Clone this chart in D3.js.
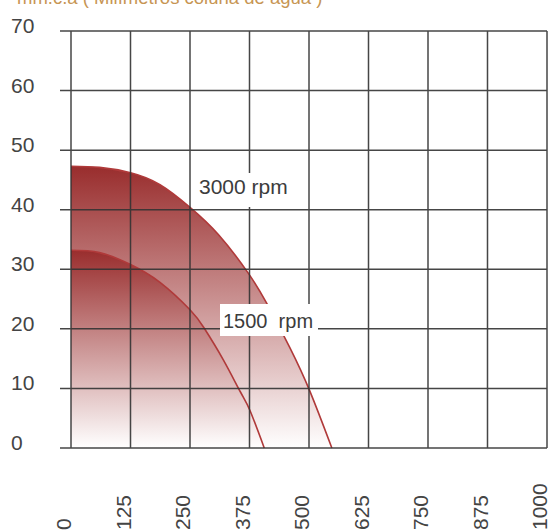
<!DOCTYPE html>
<html>
<head>
<meta charset="utf-8">
<script src="https://cdn.jsdelivr.net/npm/d3@7"></script>
<style>
  html, body { margin: 0; padding: 0; background: #fff; }
  svg { display: block; }
  text { font-family: "Liberation Sans", Arial, sans-serif; }
</style>
</head>
<body>
<svg id="chart" width="549" height="532"></svg>
<script>
// ---- data ----
const title = "mm.c.a ( Milímetros coluna de água )";
const yTicks = [0, 10, 20, 30, 40, 50, 60, 70];
const xTicks = [0, 125, 250, 375, 500, 625, 750, 875, 1000];
const flow3000 = [0, 60, 125, 187, 250, 310, 372, 411, 460, 502, 548];
const head3000 = [47.3, 47.1, 46.2, 44.2, 40.4, 35.8, 29.4, 24.3, 16.8, 9.5, 0];
const flow1500 = [0, 60, 125, 187, 250, 280, 320, 356, 376, 406];
const head1500 = [33.2, 32.8, 30.8, 27.8, 23.2, 20.1, 14.8, 9.4, 6.3, 0];
const seriesNames = ["3000 rpm", "1500\u00a0 rpm"];

const svg = d3.select("#chart");
const x = d3.scaleLinear().domain([0, 1000]).range([71, 547]);
const y = d3.scaleLinear().domain([0, 70]).range([448, 31]);

const series = [
  { name: seriesNames[0], pts: flow3000.map((f, i) => [f, head3000[i]]) },
  { name: seriesNames[1], pts: flow1500.map((f, i) => [f, head1500[i]]) }
];

const defs = svg.append("defs");
series.forEach((s, i) => {
  const top = d3.max(s.pts, d => d[1]);
  const g = defs.append("linearGradient")
    .attr("id", "grad" + i)
    .attr("gradientUnits", "userSpaceOnUse")
    .attr("x1", 0).attr("x2", 0)
    .attr("y1", y(top)).attr("y2", y(0));
  g.append("stop").attr("offset", 0).attr("stop-color", "#992d2d");
  g.append("stop").attr("offset", 1).attr("stop-color", "#ffffff");
});

// title (cut at top, as in the reference)
svg.append("text")
  .attr("x", 17).attr("y", 4)
  .attr("font-size", 18.5)
  .attr("fill", "#c79553")
  .text(title);

const curve = d3.curveNatural;
const area = d3.area()
  .x(d => x(d[0])).y0(y(0)).y1(d => y(d[1]))
  .curve(curve);
const line = d3.line()
  .x(d => x(d[0])).y(d => y(d[1]))
  .curve(curve);

series.forEach((s, i) => {
  svg.append("path").attr("d", area(s.pts)).attr("fill", `url(#grad${i})`);
  svg.append("path").attr("d", line(s.pts))
    .attr("fill", "none").attr("stroke", "#b03a3a").attr("stroke-width", 1.6);
});

// grid
const grid = svg.append("g").attr("stroke", "#333").attr("stroke-width", 1.5).attr("opacity", 0.9);
grid.selectAll("line.h").data(yTicks).join("line")
  .attr("x1", 60).attr("x2", x(1000))
  .attr("y1", d => y(d)).attr("y2", d => y(d));
grid.selectAll("line.v").data(xTicks).join("line")
  .attr("y1", y(70)).attr("y2", y(0))
  .attr("x1", d => x(d)).attr("x2", d => x(d));

// y tick labels
svg.append("g").selectAll("text").data(yTicks).join("text")
  .attr("x", 11).attr("y", d => y(d) + 2)
  .attr("font-size", 21).attr("fill", "#444")
  .text(d => d);

// x tick labels (rotated)
svg.append("g").selectAll("text").data(xTicks).join("text")
  .attr("transform", d => `translate(${x(d)},530) rotate(-90)`)
  .attr("font-size", 21).attr("fill", "#444")
  .text(d => d);

// series labels with white boxes
const labels = [
  { s: 0, box: [195, 173, 105, 34], tx: 199, ty: 194, fs: 21 },
  { s: 1, box: [220, 304, 98, 32], tx: 223, ty: 328, fs: 20 }
];
labels.forEach(l => {
  svg.append("rect").attr("x", l.box[0]).attr("y", l.box[1])
    .attr("width", l.box[2]).attr("height", l.box[3]).attr("fill", "#fff");
  svg.append("text").attr("x", l.tx).attr("y", l.ty)
    .attr("font-size", l.fs).attr("fill", "#3c3c3c")
    .text(series[l.s].name);
});
</script>
</body>
</html>
